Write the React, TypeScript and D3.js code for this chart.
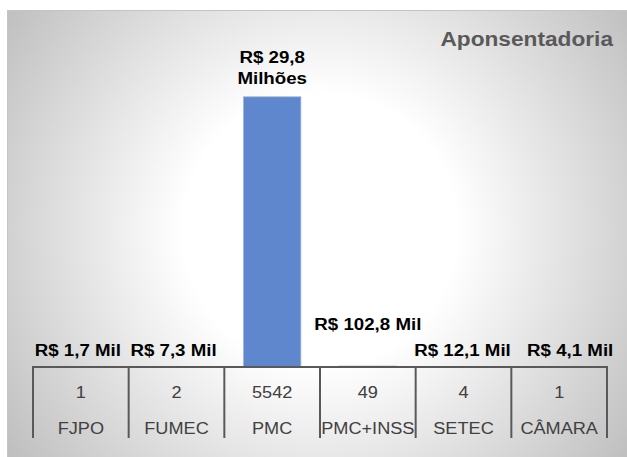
import React, { useEffect, useRef } from "react";
import * as d3 from "d3";

const categories = ["FJPO", "FUMEC", "PMC", "PMC+INSS", "SETEC", "CÂMARA"];
const counts = [1, 2, 5542, 49, 4, 1];
const amounts = [1.7e3, 7.3e3, 29.8e6, 102.8e3, 12.1e3, 4.1e3];
const amountLabels = [
  ["R$ 1,7 Mil"],
  ["R$ 7,3 Mil"],
  ["R$ 29,8", "Milhões"],
  ["R$ 102,8 Mil"],
  ["R$ 12,1 Mil"],
  ["R$ 4,1 Mil"],
];
const title = "Aponsentadoria";

// labels were dragged by hand in the original sheet
const labelNudge = [
  [-3, 0],
  [-3, 0],
  [0, -2],
  [0, -25],
  [-1, 0],
  [11, 0],
];

const width = 627,
  height = 457;
const plotLeft = 33,
  plotRight = 607,
  plotTop = 95,
  plotBottom = 367;

const font = "'Liberation Sans', Arial, sans-serif";
const stretch = 1.1;

const x = d3.scaleBand().domain(categories).range([plotLeft, plotRight]);
const y = d3.scaleLinear().domain([0, 30e6]).range([plotBottom, plotTop]);

export default function App() {
  const ref = useRef<SVGSVGElement>(null);

  useEffect(() => {
    const svg = d3.select(ref.current);
    svg.selectAll("*").remove();

    const defs = svg.append("defs");
    const grad = defs
      .append("radialGradient")
      .attr("id", "bg")
      .attr("gradientUnits", "userSpaceOnUse")
      .attr("cx", 320)
      .attr("cy", 230)
      .attr("r", 390);
    grad.append("stop").attr("offset", 0).attr("stop-color", "#ffffff");
    grad.append("stop").attr("offset", 0.35).attr("stop-color", "#ffffff");
    grad.append("stop").attr("offset", 1).attr("stop-color", "#bdbdbd");

    // chart area
    svg
      .append("rect")
      .attr("x", 7.5)
      .attr("y", 10.5)
      .attr("width", width)
      .attr("height", height)
      .attr("fill", "url(#bg)")
      .attr("stroke", "#c4c4c4");

    // title
    svg
      .append("text")
      .attr("transform", `translate(613,46) scale(1.08,1)`)
      .attr("text-anchor", "end")
      .style("font-family", font)
      .style("font-weight", "bold")
      .style("font-size", "21px")
      .style("fill", "#595959")
      .text(title);

    // bars
    const bw = x.bandwidth() * 0.6;
    svg
      .append("g")
      .selectAll("rect")
      .data(amounts)
      .enter()
      .append("rect")
      .attr("x", (d, i) => x(categories[i])! + (x.bandwidth() - bw) / 2)
      .attr("y", (d) => y(d))
      .attr("width", bw)
      .attr("height", (d) => plotBottom - y(d))
      .attr("fill", "#5f87cd")
      .attr("stroke", "#9db4e0")
      .attr("stroke-width", 0.8);

    // value labels
    amounts.forEach((v, i) => {
      const cx = x(categories[i])! + x.bandwidth() / 2 + labelNudge[i][0];
      const lines = amountLabels[i];
      const base = y(v) - 11 + labelNudge[i][1];
      lines.forEach((line, j) => {
        svg
          .append("text")
          .attr(
            "transform",
            `translate(${cx},${base - (lines.length - 1 - j) * 21}) scale(${stretch},1)`
          )
          .attr("text-anchor", "middle")
          .style("font-family", font)
          .style("font-weight", "bold")
          .style("font-size", "17px")
          .style("fill", "#000000")
          .text(line);
      });
    });

    // data table under the axis
    const table = svg.append("g");
    table
      .append("line")
      .attr("x1", plotLeft - 1)
      .attr("x2", plotRight + 1)
      .attr("y1", plotBottom)
      .attr("y2", plotBottom)
      .attr("stroke", "#595959")
      .attr("stroke-width", 2);

    const edges = [...categories.map((c) => x(c)!), plotRight];
    table
      .selectAll("line.v")
      .data(edges)
      .enter()
      .append("line")
      .attr("class", "v")
      .attr("x1", (d) => d)
      .attr("x2", (d) => d)
      .attr("y1", plotBottom)
      .attr("y2", 438)
      .attr("stroke", "#595959")
      .attr("stroke-width", 2);

    categories.forEach((c, i) => {
      const cx = x(c)! + x.bandwidth() / 2;
      [String(counts[i]), c].forEach((t, j) => {
        table
          .append("text")
          .attr("transform", `translate(${cx},${398 + j * 36}) scale(1.1,1)`)
          .attr("text-anchor", "middle")
          .style("font-family", font)
          .style("font-size", "16.5px")
          .style("fill", "#404040")
          .text(t);
      });
    });
  }, []);

  return (
    <svg
      ref={ref}
      width={width}
      height={height}
      style={{ position: "absolute", left: 0, top: 0, background: "#ffffff" }}
    />
  );
}
